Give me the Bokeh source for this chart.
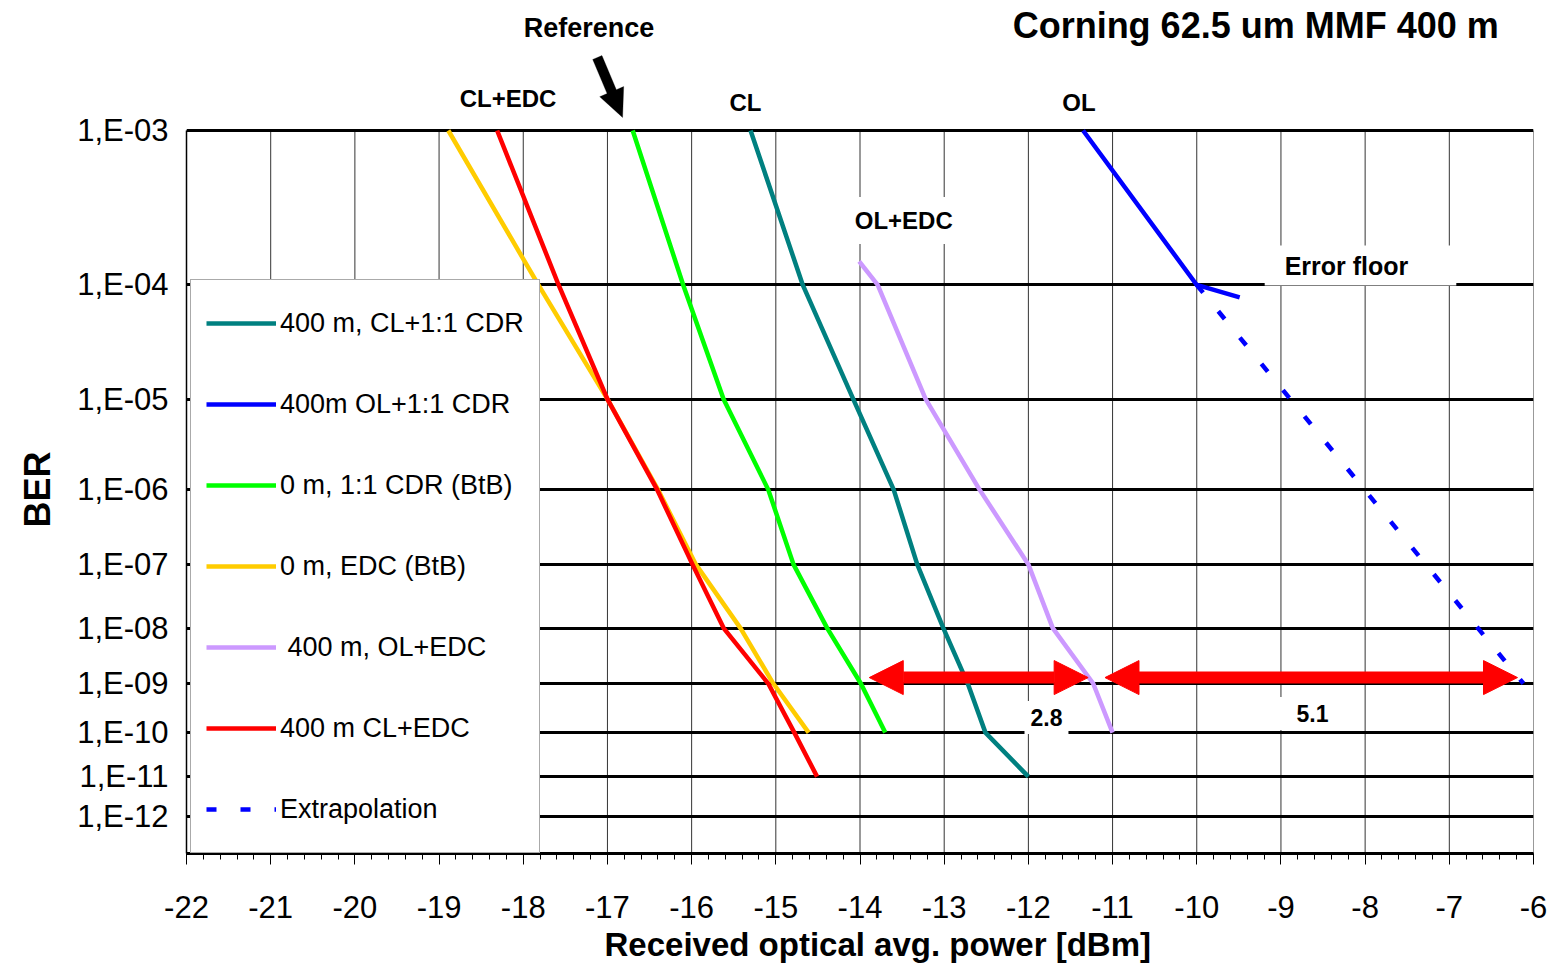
import math

from bokeh.plotting import figure
from bokeh.models import (Range1d, FixedTicker, SingleIntervalTicker, Label, Arrow,
                          NormalHead, Legend, LegendItem, PolyAnnotation, Title)
from bokeh.embed import file_html
from bokeh.resources import INLINE

# ---------------------------------------------------------------------------
# Measured BER curves: received optical power [dBm] at each BER value
# ---------------------------------------------------------------------------
cl_cdr_ber = [1e-3, 1e-4, 1e-5, 1e-6, 1e-7, 1e-8, 1e-9, 1e-10, 1e-11]
cl_cdr_dbm = [-15.30, -14.68, -14.08, -13.60, -13.32, -13.01, -12.72, -12.51, -12.00]

ol_cdr_ber = [1e-3, 1e-4, 8e-5]
ol_cdr_dbm = [-11.35, -10.00, -9.49]

btb_cdr_ber = [1e-3, 1e-4, 1e-5, 1e-6, 1e-7, 1e-8, 1e-9, 1e-10]
btb_cdr_dbm = [-16.70, -16.10, -15.62, -15.09, -14.79, -14.39, -13.99, -13.70]

btb_edc_ber = [1e-3, 1e-4, 1e-5, 1e-6, 1e-7, 1e-8, 1e-9, 1e-10]
btb_edc_dbm = [-18.89, -17.82, -17.00, -16.40, -15.95, -15.42, -15.03, -14.61]

ol_edc_ber = [1.5e-4, 1e-4, 1e-5, 1e-6, 1e-7, 1e-8, 1e-9, 1e-10]
ol_edc_dbm = [-14.01, -13.79, -13.22, -12.58, -12.00, -11.71, -11.23, -11.00]

cl_edc_ber = [1e-3, 1e-4, 1e-5, 1e-6, 1e-7, 1e-8, 1e-9, 1e-10, 1e-11]
cl_edc_dbm = [-18.31, -17.58, -17.00, -16.41, -15.99, -15.62, -15.09, -14.78, -14.51]

extrap_ber = [1e-4, 1e-9]
extrap_dbm = [-10.00, -6.12]

# Power penalties at BER 1e-9 (start point and width in dB)
gap_starts = [-13.99, -11.19]
gap_widths = [2.8, 5.1]
gap_ber = 1.3e-9

ber_ticks = [1e-3, 1e-4, 1e-5, 1e-6, 1e-7, 1e-8, 1e-9, 1e-10, 1e-11, 1e-12]
ber_tick_labels = ["1,E-03", "1,E-04", "1,E-05", "1,E-06", "1,E-07",
                   "1,E-08", "1,E-09", "1,E-10", "1,E-11", "1,E-12"]
power_min, power_max = -22, -6
power_ticks = list(range(power_min, power_max + 1))


# ---------------------------------------------------------------------------
# BER axis: log10 of the Gaussian Q factor (classic "BER paper" scale)
# ---------------------------------------------------------------------------
def q_factor(ber):
    lo, hi = 0.0, 40.0
    for _ in range(200):
        mid = 0.5 * (lo + hi)
        if 0.5 * math.erfc(mid / math.sqrt(2.0)) > ber:
            lo = mid
        else:
            hi = mid
    return 0.5 * (lo + hi)


def ber_axis(ber):
    return math.log10(q_factor(ber))


SANS = "Liberation Sans"

W, H = 1552, 978
BORDER_L, BORDER_R, BORDER_B = 186, 19, 125
HEADROOM = 130          # space above the 1E-03 line for title and curve tags

y_top = ber_axis(1e-3)
y_bottom = 0.8665
plot_h = H - HEADROOM - BORDER_B
px_per_x = (W - BORDER_L - BORDER_R) / (power_max - power_min)
px_per_y = plot_h / (y_bottom - y_top)
y_view_top = y_top - HEADROOM / px_per_y

p = figure(width=W, height=H, title=None,
           x_range=Range1d(power_min, power_max),
           y_range=Range1d(y_bottom, y_view_top),
           output_backend="svg", toolbar_location=None,
           min_border_left=BORDER_L, min_border_right=BORDER_R,
           min_border_top=0, min_border_bottom=BORDER_B,
           outline_line_color=None, background_fill_color="white",
           border_fill_color="white")

# x axis
xticker = SingleIntervalTicker(interval=1, num_minor_ticks=5)
p.xaxis.ticker = xticker
p.xaxis.major_label_overrides = {v: str(v) for v in power_ticks}
p.xaxis.axis_line_width = 3
p.xaxis.axis_line_color = "black"
p.xaxis.major_tick_out = 11
p.xaxis.major_tick_in = 0
p.xaxis.minor_tick_out = 6
p.xaxis.minor_tick_in = 0
p.xaxis.major_tick_line_color = "black"
p.xaxis.minor_tick_line_color = "black"
p.xaxis.major_label_text_font = SANS
p.xaxis.major_label_text_font_size = "31px"
p.xaxis.major_label_text_color = "black"
p.xaxis.major_label_standoff = 31
p.xgrid.visible = False

# y axis (drawn only over the BER span)
tick_pos = [ber_axis(b) for b in ber_ticks]
yticker = FixedTicker(ticks=tick_pos, minor_ticks=[])
p.yaxis.ticker = yticker
p.yaxis.bounds = (y_top, y_bottom)
p.yaxis.major_label_overrides = {t: lab for t, lab in zip(tick_pos, ber_tick_labels)}
p.yaxis.axis_line_width = 1.5
p.yaxis.axis_line_color = "black"
p.yaxis.major_tick_out = 0
p.yaxis.major_tick_in = 0
p.yaxis.minor_tick_line_color = None
p.yaxis.major_label_text_font = SANS
p.yaxis.major_label_text_font_size = "31px"
p.yaxis.major_label_text_color = "black"
p.yaxis.major_label_standoff = 18

# axis titles
p.add_layout(Title(text="Received optical avg. power [dBm]", align="left", offset=418,
                   standoff=8, vertical_align="middle",
                   text_font=SANS, text_font_size="33px",
                   text_font_style="bold", text_color="black"), "below")
p.add_layout(Title(text="BER", align="left", offset=326, standoff=30,
                   vertical_align="top",
                   text_font=SANS, text_font_size="36px",
                   text_font_style="bold", text_color="black"), "left")

# grid: thick lines at each BER decade, thin lines at each dBm step
p.ygrid.ticker = yticker
p.ygrid.grid_line_color = "black"
p.ygrid.grid_line_width = 3
p.segment(x0=power_ticks, y0=[y_top] * len(power_ticks),
          x1=power_ticks, y1=[y_bottom] * len(power_ticks),
          line_color="black", line_alpha=0.8, line_width=1, level="underlay")

# curves
series = [
    ("400 m, CL+1:1 CDR", cl_cdr_dbm, cl_cdr_ber, "#008080", None),
    ("400m OL+1:1 CDR", ol_cdr_dbm, ol_cdr_ber, "#0000FF", None),
    ("0 m, 1:1 CDR (BtB)", btb_cdr_dbm, btb_cdr_ber, "#00FF00", None),
    ("0 m, EDC (BtB)", btb_edc_dbm, btb_edc_ber, "#FFCC00", None),
    ("\u00a0400 m, OL+EDC", ol_edc_dbm, ol_edc_ber, "#CC99FF", None),
    ("400 m CL+EDC", cl_edc_dbm, cl_edc_ber, "#FF0000", None),
    ("Extrapolation", extrap_dbm, extrap_ber, "#0000FF", "10 24"),
]

items = []
for label, xs, bers, color, dash in series:
    ys = [ber_axis(b) for b in bers]
    kw = dict(line_color=color, line_width=4.5, line_join="round")
    if dash:
        kw["line_dash"] = dash
    r = p.line(xs, ys, **kw)
    items.append(LegendItem(label=label, renderers=[r]))

legend = Legend(items=items, location=(4, 0), margin=0, padding=15,
                glyph_width=70, glyph_height=56, label_height=56, spacing=25,
                label_standoff=4, label_text_font=SANS, label_text_font_size="27px",
                label_text_color="black",
                border_line_color="#555555", border_line_width=1.5,
                background_fill_color="white", background_fill_alpha=1.0)
p.add_layout(legend)


def add_text(text, x, y, size, pad=None):
    kw = dict(x=x, y=y, text=text, text_font=SANS, text_font_size=size,
              text_font_style="bold", text_color="black",
              text_align="center", text_baseline="middle")
    if pad is not None:
        kw.update(background_fill_color="white", background_fill_alpha=1.0,
                  padding=pad)
    p.add_layout(Label(**kw))


add_text("Corning 62.5 um MMF 400 m", -9.30, 0.4353, "36px")
add_text("Reference", -17.22, 0.4364, "27px")
add_text("CL+EDC", -18.18, 0.4733, "24px")
add_text("CL", -15.36, 0.4754, "24px")
add_text("OL", -11.40, 0.4754, "24px")
add_text("OL+EDC", -13.48, 0.5369, "24px", pad=dict(left=6, right=6, top=10, bottom=10))
add_text("Error floor", -8.055, 0.5603, "25px", pad=dict(left=20, right=48, top=6, bottom=6))
add_text("2.8", -11.785, 0.7957, "23px", pad=dict(left=6, right=6, top=8, bottom=8))
add_text("5.1", -8.697, 0.7936, "23px", pad=dict(left=18, right=6, top=8, bottom=8))


# "Reference" pointer: solid arrow outline built in screen proportions
def pointer(tail, tip, half_shaft=5.0, half_head=13.0, head_len=28.0):
    X0, Y0 = tail[0] * px_per_x, tail[1] * px_per_y
    X1, Y1 = tip[0] * px_per_x, tip[1] * px_per_y
    L = math.hypot(X1 - X0, Y1 - Y0)
    ux, uy = (X1 - X0) / L, (Y1 - Y0) / L
    nx, ny = -uy, ux
    bx, by = X1 - ux * head_len, Y1 - uy * head_len
    pts = [
        (X0 + nx * half_shaft, Y0 + ny * half_shaft),
        (bx + nx * half_shaft, by + ny * half_shaft),
        (bx + nx * half_head, by + ny * half_head),
        (X1, Y1),
        (bx - nx * half_head, by - ny * half_head),
        (bx - nx * half_shaft, by - ny * half_shaft),
        (X0 - nx * half_shaft, Y0 - ny * half_shaft),
    ]
    return [q[0] / px_per_x for q in pts], [q[1] / px_per_y for q in pts]


pxs, pys = pointer((-17.12, 0.452), (-16.82, 0.4832))
p.add_layout(PolyAnnotation(xs=pxs, ys=pys, fill_color="black", fill_alpha=1.0,
                            line_color="black", line_width=1))

# penalty arrows at BER 1e-9
arrow_y = ber_axis(gap_ber)
inset = 0.1
for x0, w in zip(gap_starts, gap_widths):
    p.add_layout(Arrow(
        start=NormalHead(size=34, fill_color="#FF0000", line_color="#FF0000"),
        end=NormalHead(size=34, fill_color="#FF0000", line_color="#FF0000"),
        x_start=x0 + inset, y_start=arrow_y, x_end=x0 + w - inset, y_end=arrow_y,
        line_color="#FF0000", line_width=12))

open("out.html", "w").write(file_html(p, INLINE))
